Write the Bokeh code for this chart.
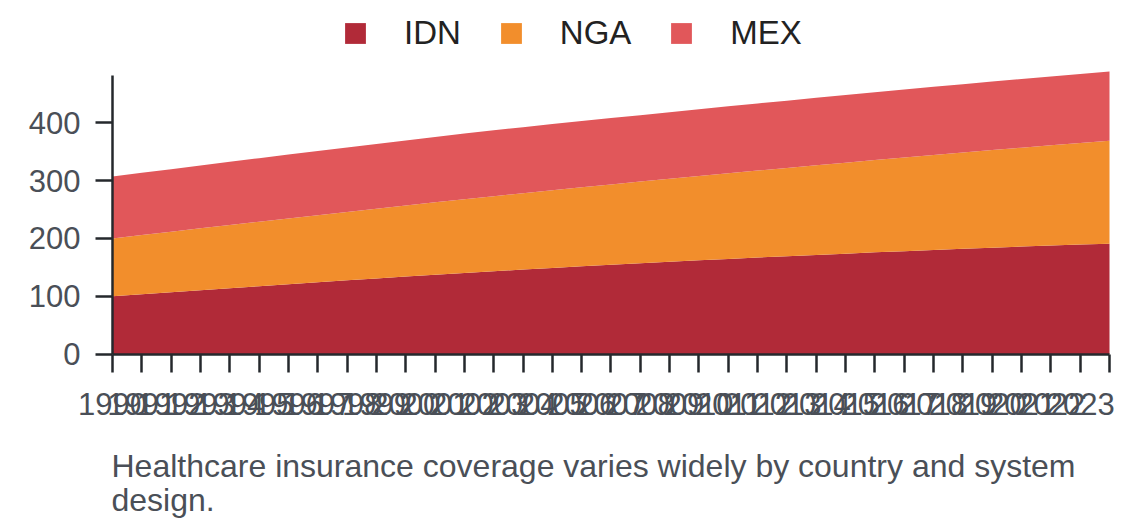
from bokeh.plotting import figure
from bokeh.models import ColumnDataSource, FixedTicker, Legend, Label
from bokeh.embed import file_html
from bokeh.resources import INLINE

years = list(range(1990, 2025))
idn = [100.0, 103.5, 107.0, 110.5, 114.0, 117.4, 120.8, 124.2, 127.5, 130.8,
       134.0, 137.2, 140.3, 143.3, 146.2, 149.0, 151.7, 154.4, 157.0, 159.6,
       162.1, 164.5, 166.9, 169.2, 171.5, 173.7, 175.9, 178.0, 180.1, 182.1,
       184.0, 185.9, 187.7, 189.4, 191.0]
nga = [100.0, 102.4, 104.7, 107.0, 109.2, 111.5, 113.8, 116.0, 118.3, 120.6,
       122.9, 125.2, 127.6, 129.9, 132.2, 134.4, 136.7, 139.0, 141.3, 143.7,
       146.0, 148.3, 150.5, 152.8, 155.1, 157.4, 159.8, 162.1, 164.4, 166.7,
       168.9, 171.2, 173.5, 175.8, 178.0]
mex = [107.0, 107.6, 108.2, 108.8, 109.4, 110.0, 110.6, 111.1, 111.7, 112.2,
       112.7, 113.2, 113.6, 113.9, 114.2, 114.4, 114.6, 114.8, 115.0, 115.2,
       115.5, 115.8, 116.1, 116.4, 116.7, 117.0, 117.3, 117.6, 117.9, 118.2,
       118.5, 118.8, 119.1, 119.4, 119.7]
series = ["IDN", "NGA", "MEX"]
colors = ["#B12A38", "#F28E2C", "#E1575A"]
y_ticks = [0, 100, 200, 300, 400]
y_axis_max = 482
caption_lines = ["Healthcare insurance coverage varies widely by country and system",
                 "design."]

source = ColumnDataSource(dict(year=years, IDN=idn, NGA=nga, MEX=mex))

FONT = "Liberation Sans"
TICK_COLOR = "#4a4f57"
AXIS_COLOR = "#25282c"

# the frame spans the full figure: legend, caption and axes are drawn inside it,
# with the axes pinned at x = 1990 and y = 0
p = figure(width=1140, height=528, output_backend="svg", toolbar_location=None,
           x_range=(1986.181, 2025.057), y_range=(-301.9, 611.7),
           min_border_left=0, min_border_right=0,
           min_border_top=0, min_border_bottom=0)
p.outline_line_color = None
p.grid.visible = False
p.background_fill_color = "white"

renderers = p.varea_stack(stackers=series, x="year", color=colors, source=source)

legend = Legend(items=[(s, [r]) for s, r in zip(series, renderers)],
                orientation="horizontal", location=(342, 476),
                glyph_width=26, glyph_height=26,
                label_text_font=FONT, label_text_font_size="33px",
                label_text_color="#222222",
                label_standoff=36, spacing=37, padding=0, margin=0,
                border_line_color=None, background_fill_alpha=0)
p.add_layout(legend, "center")

for ax in (p.xaxis[0], p.yaxis[0]):
    ax.axis_line_color = AXIS_COLOR
    ax.axis_line_width = 2.5
    ax.major_tick_line_color = AXIS_COLOR
    ax.major_tick_line_width = 2.5
    ax.major_tick_in = 0
    ax.minor_tick_line_color = None
    ax.major_label_text_font = FONT
    ax.major_label_text_font_size = "31px"
    ax.major_label_text_color = TICK_COLOR

p.xaxis.ticker = FixedTicker(ticks=years)
p.xaxis.fixed_location = 0
p.xaxis.bounds = (years[0], years[-1])
p.xaxis.major_tick_out = 18
p.xaxis.major_label_standoff = 21
p.xaxis.major_label_overrides = {2024: ""}
p.yaxis.ticker = FixedTicker(ticks=y_ticks)
p.yaxis.fixed_location = years[0]
p.yaxis.bounds = (0, y_axis_max)
p.yaxis.major_tick_out = 17
p.yaxis.major_label_standoff = 15

for line, ypos in zip(caption_lines, [63, 29]):
    p.add_layout(Label(x=111, y=ypos, x_units="screen", y_units="screen", text=line,
                       text_font=FONT, text_font_size="32px",
                       text_color=TICK_COLOR, text_baseline="alphabetic",
                       text_align="left"))

open("out.html", "w").write(file_html(p, INLINE))
